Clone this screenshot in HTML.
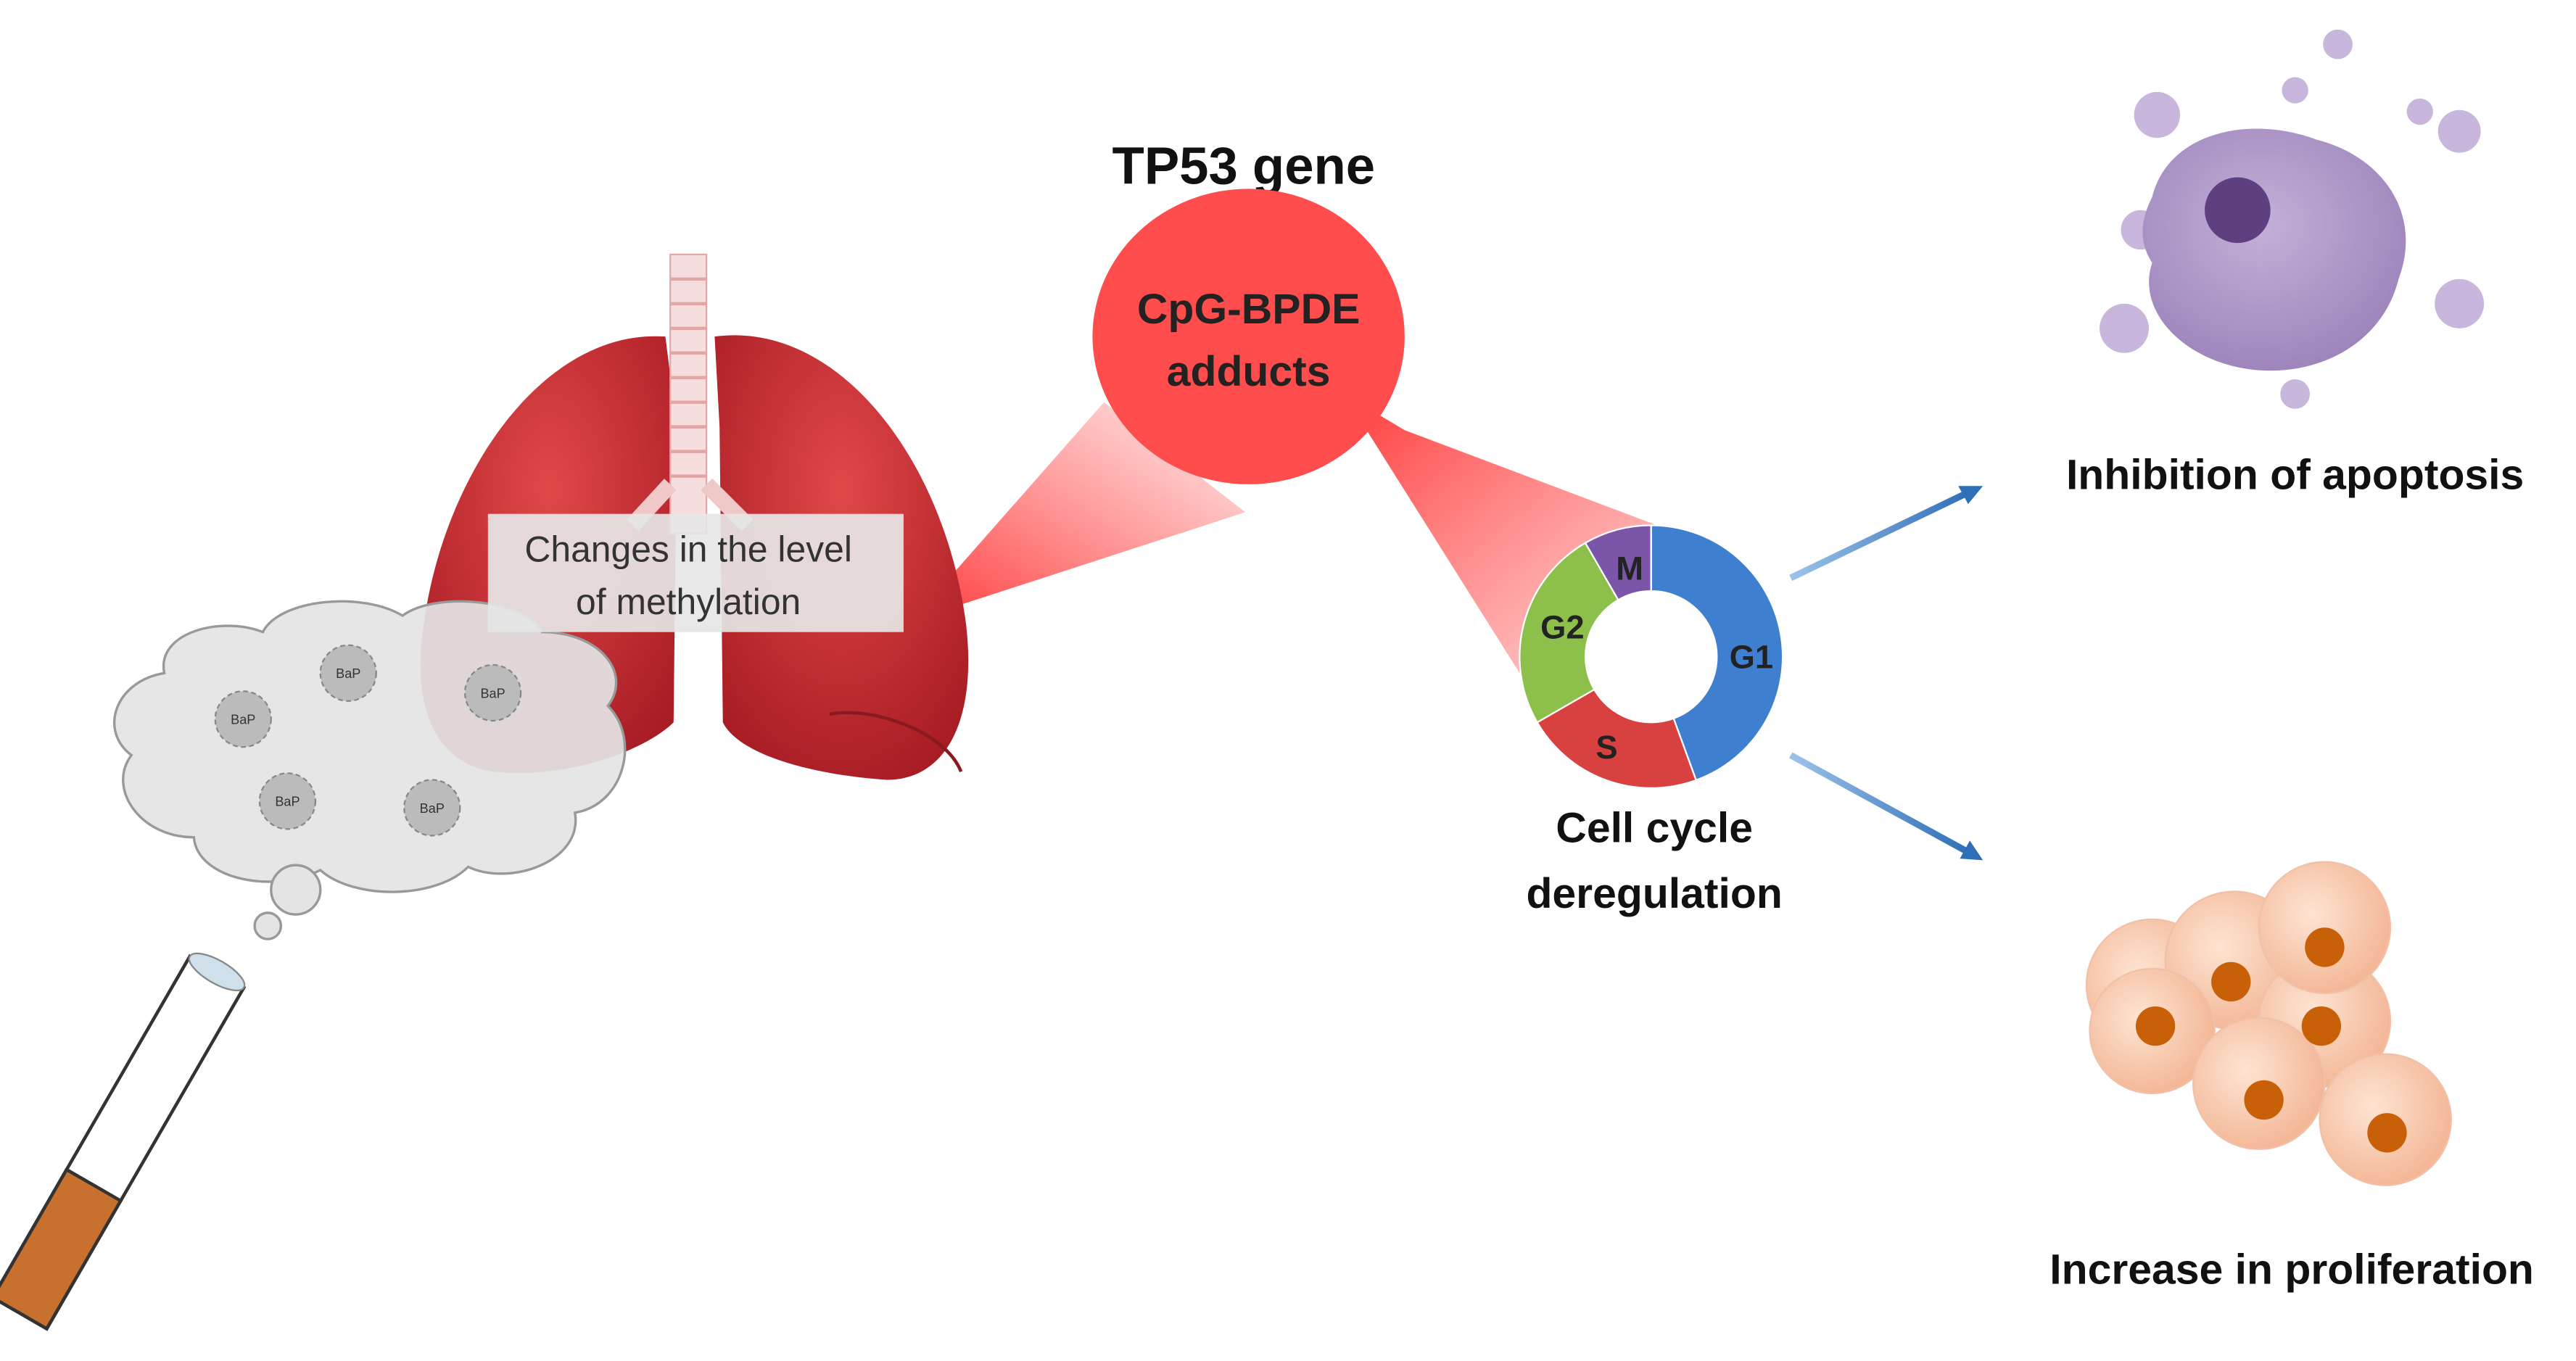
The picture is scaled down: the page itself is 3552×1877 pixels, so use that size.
<!DOCTYPE html>
<html><head><meta charset="utf-8"><style>
html,body{margin:0;padding:0;background:#fff}
svg{display:block}
text{font-family:"Liberation Sans",sans-serif}
</style></head><body>
<svg width="3552" height="1877" viewBox="0 0 1568 829" preserveAspectRatio="none" xmlns="http://www.w3.org/2000/svg">
<defs>
<linearGradient id="cone1" x1="1" y1="0" x2="0" y2="1">
<stop offset="0" stop-color="#ff4a4a" stop-opacity="0.1"/><stop offset="1" stop-color="#ff3030" stop-opacity="0.95"/></linearGradient>
<linearGradient id="cone2" x1="0" y1="0" x2="1" y2="1">
<stop offset="0" stop-color="#ff3030" stop-opacity="0.95"/><stop offset="1" stop-color="#ff6060" stop-opacity="0.25"/></linearGradient>
<radialGradient id="lung" cx="0.5" cy="0.35" r="0.7"><stop offset="0" stop-color="#e04848"/><stop offset="1" stop-color="#a81c24"/></radialGradient>
<linearGradient id="arr" x1="0" y1="0" x2="1" y2="0"><stop offset="0" stop-color="#9cc3ea"/><stop offset="1" stop-color="#2f6fb8"/></linearGradient>
<radialGradient id="peach" cx="0.4" cy="0.4" r="0.6"><stop offset="0" stop-color="#fde4d2"/><stop offset="1" stop-color="#f4b898"/></radialGradient>
<radialGradient id="purp" cx="0.45" cy="0.4" r="0.6"><stop offset="0" stop-color="#c4b0d8"/><stop offset="1" stop-color="#9e86bc"/></radialGradient>
</defs>

<polygon points="555,378 672,245 758,312" fill="url(#cone1)"/>
<polygon points="818,240 855,262 1022,325 925,410" fill="url(#cone2)"/>

<path d="M405,205 C330,200 270,290 258,380 C250,430 265,465 300,470 C350,475 395,455 410,440 L412,260 Z" fill="url(#lung)"/>
<path d="M435,205 C510,195 575,280 588,380 C595,440 575,475 540,475 C495,472 450,460 440,440 L438,260 Z" fill="url(#lung)"/>
<path d="M505,435 C530,430 575,445 585,470" stroke="#8a1a20" fill="none" stroke-width="2"/>
<rect x="408" y="155" width="22" height="170" fill="#f6dede" stroke="#e0a8a8"/>
<g stroke="#e2a6a6" stroke-width="2">
<line x1="408" y1="170" x2="430" y2="170"/><line x1="408" y1="185" x2="430" y2="185"/><line x1="408" y1="200" x2="430" y2="200"/>
<line x1="408" y1="215" x2="430" y2="215"/><line x1="408" y1="230" x2="430" y2="230"/><line x1="408" y1="245" x2="430" y2="245"/>
<line x1="408" y1="260" x2="430" y2="260"/><line x1="408" y1="275" x2="430" y2="275"/><line x1="408" y1="290" x2="430" y2="290"/>
</g>
<path d="M408,295 L385,320 M430,295 L455,320" stroke="#f0c8c8" stroke-width="10" fill="none"/>

<path d="M100,410 C95,385 135,375 160,385 C170,365 220,360 245,375 C265,360 320,365 330,385 C365,385 385,410 370,430 C390,450 380,490 350,495 C355,525 310,540 285,528 C265,548 215,548 195,530 C165,545 120,535 118,510 C85,510 65,480 80,460 C60,445 70,415 100,410 Z" fill="#e4e4e4" fill-opacity="0.93" stroke="#999" stroke-width="1.5"/>
<circle cx="180" cy="542" r="15" fill="#e4e4e4" stroke="#999" stroke-width="1.5"/>
<circle cx="163" cy="564" r="8" fill="#e4e4e4" stroke="#999" stroke-width="1.5"/>
<g font-size="8" text-anchor="middle" fill="#333">
<g transform="translate(148,438)"><circle r="17" fill="#bbb" stroke="#888" stroke-dasharray="3 2"/><text y="3">BaP</text></g>
<g transform="translate(212,410)"><circle r="17" fill="#bbb" stroke="#888" stroke-dasharray="3 2"/><text y="3">BaP</text></g>
<g transform="translate(300,422)"><circle r="17" fill="#bbb" stroke="#888" stroke-dasharray="3 2"/><text y="3">BaP</text></g>
<g transform="translate(175,488)"><circle r="17" fill="#bbb" stroke="#888" stroke-dasharray="3 2"/><text y="3">BaP</text></g>
<g transform="translate(263,492)"><circle r="17" fill="#bbb" stroke="#888" stroke-dasharray="3 2"/><text y="3">BaP</text></g>
</g>

<rect x="297" y="313" width="253" height="72" fill="#e6e6e6" fill-opacity="0.92"/>
<text x="419" y="342" font-size="22" text-anchor="middle" fill="#333">Changes in the level</text>
<text x="419" y="374" font-size="22" text-anchor="middle" fill="#333">of methylation</text>

<g transform="translate(132,592) rotate(30)">
<rect x="-19" y="0" width="38" height="240" fill="#fff" stroke="#333" stroke-width="2"/>
<rect x="-19" y="150" width="38" height="90" fill="#c8702e" stroke="#333" stroke-width="2"/>
<ellipse cx="0" cy="0" rx="19" ry="7" fill="#cfe0ea" stroke="#888"/>
</g>

<text x="757" y="112" font-size="32" font-weight="bold" text-anchor="middle" fill="#111">TP53 gene</text>
<ellipse cx="760" cy="205" rx="95" ry="90" fill="#ff4d4d"/>
<text x="760" y="197" font-size="26" font-weight="bold" text-anchor="middle" fill="#222">CpG-BPDE</text>
<text x="760" y="235" font-size="26" font-weight="bold" text-anchor="middle" fill="#222">adducts</text>

<g transform="translate(1005,400)" stroke="#fff" stroke-width="1">
<path d="M0,-80 A80,80 0 0 1 27.4,75.2 L13.7,37.6 A40,40 0 0 0 0,-40 Z" fill="#3f7fd0"/>
<path d="M27.4,75.2 A80,80 0 0 1 -69.3,40 L-34.6,20 A40,40 0 0 0 13.7,37.6 Z" fill="#d94040"/>
<path d="M-69.3,40 A80,80 0 0 1 -40,-69.3 L-20,-34.6 A40,40 0 0 0 -34.6,20 Z" fill="#8cc04a"/>
<path d="M-40,-69.3 A80,80 0 0 1 0,-80 L0,-40 A40,40 0 0 0 -20,-34.6 Z" fill="#7a55a8"/>
</g>
<g font-size="20" font-weight="bold" fill="#222" text-anchor="middle">
<text x="1066" y="407">G1</text><text x="978" y="462">S</text><text x="951" y="389">G2</text><text x="992" y="353">M</text></g>
<text x="1007" y="513" font-size="26" font-weight="bold" text-anchor="middle" fill="#111">Cell cycle</text>
<text x="1007" y="553" font-size="26" font-weight="bold" text-anchor="middle" fill="#111">deregulation</text>

<line x1="1090" y1="352" x2="1198" y2="300" stroke="url(#arr)" stroke-width="4"/>
<polygon points="1207,296 1192,296 1198,307" fill="#2f6fb8"/>
<line x1="1090" y1="460" x2="1198" y2="519" stroke="url(#arr)" stroke-width="4"/>
<polygon points="1207,524 1199,512 1193,523" fill="#2f6fb8"/>

<g fill="#c9b6dc">
<circle cx="1423" cy="27" r="9"/><circle cx="1313" cy="70" r="14"/><circle cx="1397" cy="55" r="8"/>
<circle cx="1473" cy="68" r="8"/><circle cx="1497" cy="80" r="13"/><circle cx="1293" cy="200" r="15"/>
<circle cx="1497" cy="185" r="15"/><circle cx="1397" cy="240" r="9"/><circle cx="1303" cy="140" r="12"/>
</g>
<path d="M1310,120 C1320,80 1370,70 1410,85 C1450,95 1475,130 1460,170 C1450,210 1410,230 1370,225 C1330,220 1300,190 1310,160 C1300,145 1305,130 1310,120 Z" fill="url(#purp)"/>
<circle cx="1362" cy="128" r="20" fill="#5e3f80"/>
<text x="1397" y="298" font-size="26" font-weight="bold" text-anchor="middle" fill="#111">Inhibition of apoptosis</text>

<g stroke="#f0c0a8" stroke-width="1">
<circle cx="1310" cy="600" r="40" fill="url(#peach)"/>
<circle cx="1360" cy="585" r="42" fill="url(#peach)"/>
<circle cx="1415" cy="622" r="40" fill="url(#peach)"/>
<circle cx="1415" cy="565" r="40" fill="url(#peach)"/>
<circle cx="1310" cy="628" r="38" fill="url(#peach)"/>
<circle cx="1375" cy="660" r="40" fill="url(#peach)"/>
<circle cx="1452" cy="682" r="40" fill="url(#peach)"/>
</g>
<g fill="#c86008">
<circle cx="1358" cy="598" r="12"/><circle cx="1415" cy="577" r="12"/><circle cx="1413" cy="625" r="12"/>
<circle cx="1312" cy="625" r="12"/><circle cx="1378" cy="670" r="12"/><circle cx="1453" cy="690" r="12"/>
</g>
<text x="1395" y="782" font-size="26" font-weight="bold" text-anchor="middle" fill="#111">Increase in proliferation</text>
</svg>
</body></html>
